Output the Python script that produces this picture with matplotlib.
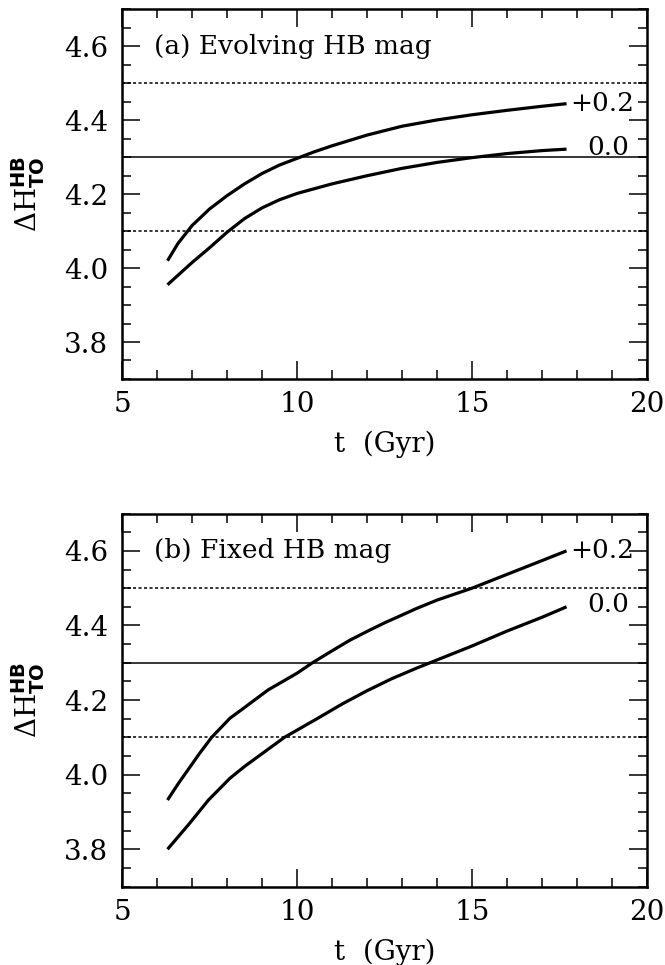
import matplotlib
matplotlib.use("Agg")
import matplotlib.pyplot as plt
from matplotlib.ticker import MultipleLocator

plt.rcParams['font.family'] = ['DejaVu Serif']
plt.rcParams['mathtext.fontset'] = 'custom'
plt.rcParams['mathtext.rm'] = 'DejaVu Serif'
plt.rcParams['mathtext.bf'] = 'DejaVu Sans:bold'

# Panel (a): evolving HB mag
t_a_p02 = [6.3, 6.6, 7.0, 7.5, 8.0, 8.5, 9.0, 9.5, 10.0, 10.5, 11.0, 12.0, 13.0, 14.0, 15.0, 16.0, 17.0, 17.7]
y_a_p02 = [4.02, 4.067, 4.115, 4.16, 4.196, 4.228, 4.256, 4.279, 4.297, 4.315, 4.331, 4.36, 4.384, 4.401, 4.415, 4.427, 4.438, 4.445]
t_a_00 = [6.3, 7.0, 7.5, 8.0, 8.5, 9.0, 9.5, 10.0, 11.0, 12.0, 13.0, 14.0, 15.0, 16.0, 17.0, 17.7]
y_a_00 = [3.955, 4.015, 4.055, 4.097, 4.134, 4.163, 4.185, 4.202, 4.228, 4.25, 4.27, 4.286, 4.299, 4.31, 4.318, 4.322]

# Panel (b): fixed HB mag
t_b_p02 = [6.3, 6.6, 6.9, 7.2, 7.56, 8.08, 8.5, 9.17, 10.0, 10.44, 11.0, 11.5, 12.0, 12.5, 13.0, 13.4, 14.0, 15.0, 16.0, 17.0, 17.7]
y_b_p02 = [3.932, 3.975, 4.015, 4.055, 4.1, 4.151, 4.18, 4.227, 4.272, 4.3, 4.332, 4.36, 4.384, 4.407, 4.428, 4.445, 4.468, 4.5, 4.537, 4.574, 4.6]
t_b_00 = [6.3, 6.9, 7.47, 8.08, 8.5, 9.07, 9.64, 10.59, 11.3, 12.0, 12.7, 13.4, 13.8, 15.0, 16.0, 17.0, 17.7]
y_b_00 = [3.8, 3.866, 3.932, 3.99, 4.022, 4.061, 4.1, 4.151, 4.19, 4.225, 4.257, 4.285, 4.3, 4.345, 4.385, 4.422, 4.45]

ref_solid = 4.3
ref_dotted = [4.1, 4.5]
curve_labels = ['+0.2', '0.0']
titles = ['(a) Evolving HB mag', '(b) Fixed HB mag']

fig = plt.figure(figsize=(6.65, 9.65), dpi=100)
ax_a = fig.add_axes([0.1835, 0.6073, 0.7895, 0.3829])
ax_b = fig.add_axes([0.1835, 0.0813, 0.7895, 0.3865])

fs = 19
tfs = 20
panels = [
    (ax_a, t_a_p02, y_a_p02, t_a_00, y_a_00, titles[0]),
    (ax_b, t_b_p02, y_b_p02, t_b_00, y_b_00, titles[1]),
]
for ax, tp, yp, t0, y0, title in panels:
    ax.plot(tp, yp, color='black', lw=2.3, solid_capstyle='butt')
    ax.plot(t0, y0, color='black', lw=2.3, solid_capstyle='butt')
    ax.axhline(ref_solid, color='black', lw=1.1)
    for r in ref_dotted:
        ax.axhline(r, color='black', lw=1.1, linestyle=(0, (2.0, 1.6)))
    ax.text(tp[-1] + 0.1, yp[-1], curve_labels[0], fontsize=fs, va='center', ha='left')
    ax.text(t0[-1] + 0.6, y0[-1] + 0.005, curve_labels[1], fontsize=fs, va='center', ha='left')
    ax.text(5.9, 4.6, title, fontsize=fs, va='center', ha='left')
    ax.set_xlim(5, 20)
    ax.set_ylim(3.7, 4.7)
    ax.xaxis.set_major_locator(MultipleLocator(5))
    ax.xaxis.set_minor_locator(MultipleLocator(1))
    ax.yaxis.set_major_locator(MultipleLocator(0.2))
    ax.yaxis.set_minor_locator(MultipleLocator(0.05))
    ax.set_yticks([3.8, 4.0, 4.2, 4.4, 4.6])
    ax.set_yticklabels(['3.8', '4.0', '4.2', '4.4', '4.6'])
    ax.tick_params(which='both', direction='in', top=True, right=True, width=1.1, labelsize=tfs)
    ax.tick_params(which='major', length=13)
    ax.tick_params(which='minor', length=6.5)
    ax.tick_params(axis='x', which='major', pad=9)
    ax.tick_params(axis='y', which='major', pad=10)
    for s in ax.spines.values():
        s.set_linewidth(1.8)
    ax.set_xlabel('t  (Gyr)', fontsize=tfs, labelpad=9)
    ax.set_ylabel(r'$\Delta\mathrm{H}^{\mathbf{HB}}_{\mathbf{TO}}$', fontsize=tfs, labelpad=12)

fig.savefig('out.png', dpi=100)
